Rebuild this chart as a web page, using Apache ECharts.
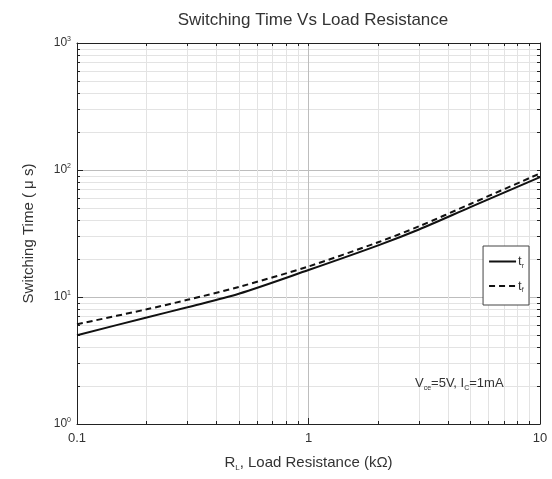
<!DOCTYPE html>
<html>
<head>
<meta charset="utf-8">
<script src="https://cdn.jsdelivr.net/npm/echarts@6/dist/echarts.min.js"></script>
<style>
  html, body { margin: 0; padding: 0; background: #fff; }
  #chart { width: 552px; height: 479px; }
</style>
</head>
<body>
<div id="chart"></div>
<script>
// load resistance (kOhm)
const resistance = [0.1, 0.2, 0.3, 0.5, 1, 2, 3, 5, 10];
// rise time t_r (us)
const riseTime = [5.0, 6.9, 8.3, 10.6, 16.3, 25.5, 34, 51, 88];
// fall time t_f (us)
const fallTime = [6.1, 8.0, 9.5, 12.0, 17.4, 27, 36, 54, 94];

const xMinorValues = [0.2, 0.3, 0.4, 0.5, 0.6, 0.7, 0.8, 0.9, 2, 3, 4, 5, 6, 7, 8, 9];
const yMinorValues = [2, 3, 4, 5, 6, 7, 8, 9, 20, 30, 40, 50, 60, 70, 80, 90, 200, 300, 400, 500, 600, 700, 800, 900];
const xAllValues = [0.1].concat(xMinorValues.slice(0, 8), [1], xMinorValues.slice(8), [10]);
const yAllValues = [1].concat(yMinorValues.slice(0, 8), [10], yMinorValues.slice(8, 16), [100], yMinorValues.slice(16), [1000]);

const textColor = '#333';
const font = 'Liberation Sans, Arial, sans-serif';

const chart = echarts.init(document.getElementById('chart'));

const logX = { type: 'log', logBase: 10, min: 0.1, max: 10 };
const logY = { type: 'log', logBase: 10, min: 1, max: 1000 };

const option = {
  animation: false,
  textStyle: { fontFamily: font },
  title: {
    text: 'Switching Time Vs Load Resistance',
    left: 308,
    textAlign: 'center',
    top: 7,
    textStyle: { fontSize: 17, fontWeight: 'normal', color: textColor, fontFamily: font }
  },
  grid: { left: 77, right: 12, top: 43, bottom: 55 },
  legend: {
    orient: 'vertical',
    right: 23,
    top: 246,
    backgroundColor: '#fff',
    borderColor: '#444',
    borderWidth: 1,
    borderRadius: 0,
    padding: [9, 5, 11, 5],
    itemGap: 10,
    itemWidth: 27,
    itemHeight: 12,
    itemStyle: { opacity: 0 },
    data: ['tr', 'tf'],
    formatter: function (name) {
      return name === 'tr' ? 't{s|r}' : 't{s|f}';
    },
    textStyle: {
      fontSize: 13,
      color: textColor,
      padding: [0, 0, 0, -3],
      rich: { s: { fontSize: 7, padding: [9, 0, 0, 0], color: textColor } }
    }
  },
  graphic: [{
    type: 'text',
    left: 415,
    top: 377,
    z: 10,
    style: {
      text: 'V{s|ce}=5V, I{s|C}=1mA',
      fontSize: 13,
      fill: textColor,
      fontFamily: font,
      rich: { s: { fontSize: 7, padding: [9, 0, 0, 0], fill: textColor } }
    }
  }],
  xAxis: [
    Object.assign({}, logX, {
      position: 'bottom',
      name: 'R{s|L}, Load Resistance (k\u03A9)',
      nameLocation: 'middle',
      nameGap: 30,
      nameTextStyle: {
        fontSize: 15,
        color: textColor,
        rich: { s: { fontSize: 8, padding: [10, 0, 0, 0], color: textColor } }
      },
      axisLine: { show: true, lineStyle: { color: '#222', width: 1 } },
      axisTick: { show: true, inside: true, length: 6, lineStyle: { color: '#222' } },
      axisLabel: {
        fontSize: 13,
        color: textColor,
        margin: 8,
        formatter: function (v) { return String(+v.toPrecision(3)); }
      },
      splitLine: { show: true, lineStyle: { color: '#bdbdbd', width: 1 } },
      minorTick: { show: false },
      minorSplitLine: { show: false }
    }),
    Object.assign({}, logX, {
      position: 'bottom',
      axisLine: { show: false },
      axisTick: { show: true, inside: true, length: 3, customValues: xMinorValues, lineStyle: { color: '#222' } },
      axisLabel: { show: false },
      splitLine: { show: true, lineStyle: { color: '#e3e3e3', width: 1 } }
    }),
    Object.assign({}, logX, {
      position: 'top',
      axisLine: { show: true, lineStyle: { color: '#222', width: 1 } },
      axisTick: { show: true, inside: true, length: 3, customValues: xAllValues, lineStyle: { color: '#222' } },
      axisLabel: { show: false },
      splitLine: { show: false }
    })
  ],
  yAxis: [
    Object.assign({}, logY, {
      position: 'left',
      name: 'Switching Time ( \u03BC s)',
      nameLocation: 'middle',
      nameGap: 41,
      nameRotate: 90,
      nameTextStyle: { fontSize: 15, color: textColor },
      axisLine: { show: true, lineStyle: { color: '#222', width: 1 } },
      axisTick: { show: true, inside: true, length: 6, lineStyle: { color: '#222' } },
      axisLabel: {
        fontSize: 12,
        color: textColor,
        margin: 6,
        formatter: function (v) {
          return '10{p|' + Math.round(Math.log10(v)) + '}';
        },
        rich: { p: { fontSize: 7, padding: [0, 0, 8, 0], color: textColor } }
      },
      splitLine: { show: true, lineStyle: { color: '#bdbdbd', width: 1 } },
      minorTick: { show: false },
      minorSplitLine: { show: false }
    }),
    Object.assign({}, logY, {
      position: 'left',
      axisLine: { show: false },
      axisTick: { show: true, inside: true, length: 3, customValues: yMinorValues, lineStyle: { color: '#222' } },
      axisLabel: { show: false },
      splitLine: { show: true, lineStyle: { color: '#e3e3e3', width: 1 } }
    }),
    Object.assign({}, logY, {
      position: 'right',
      axisLine: { show: true, lineStyle: { color: '#222', width: 1 } },
      axisTick: { show: true, inside: true, length: 3, customValues: yAllValues, lineStyle: { color: '#222' } },
      axisLabel: { show: false },
      splitLine: { show: false }
    })
  ],
  series: [
    {
      name: 'tr',
      type: 'line',
      xAxisIndex: 0,
      yAxisIndex: 0,
      smooth: 0.3,
      symbol: 'none',
      z: 5,
      lineStyle: { color: '#111', width: 2, type: 'solid' },
      itemStyle: { color: '#111' },
      data: resistance.map((r, i) => [r, riseTime[i]])
    },
    {
      name: 'tf',
      type: 'line',
      xAxisIndex: 0,
      yAxisIndex: 0,
      smooth: 0.3,
      symbol: 'none',
      z: 5,
      lineStyle: { color: '#111', width: 2, type: [6, 4] },
      itemStyle: { color: '#111' },
      data: resistance.map((r, i) => [r, fallTime[i]])
    }
  ]
};

chart.setOption(option);
</script>
</body>
</html>
